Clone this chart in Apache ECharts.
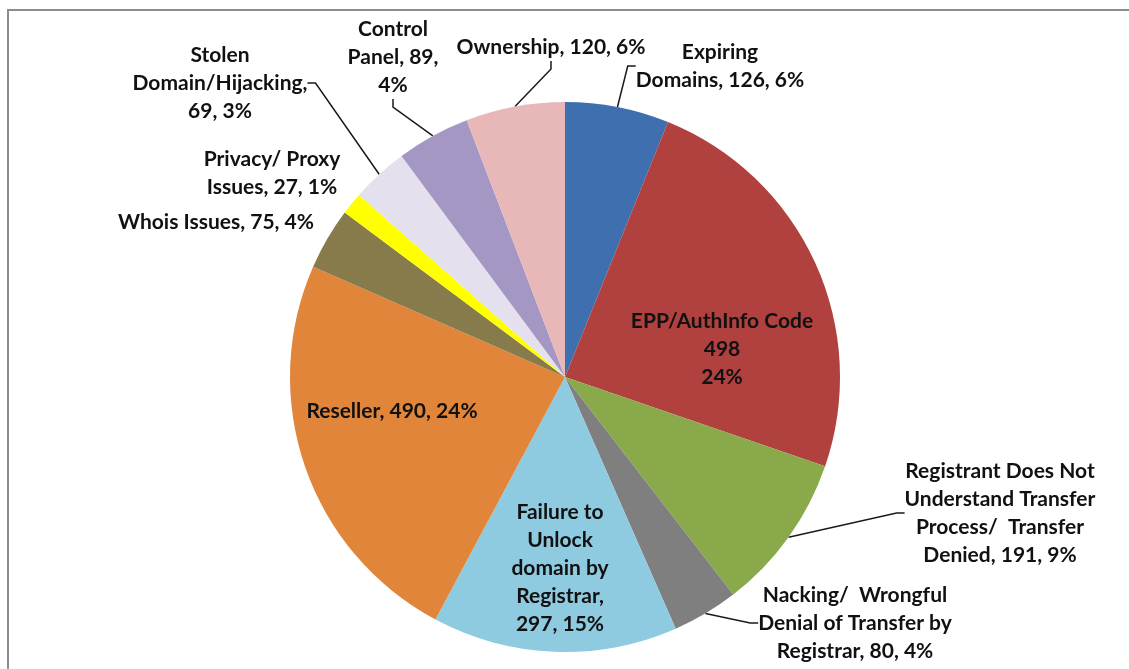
<!DOCTYPE html>
<html>
<head>
<meta charset="utf-8">
<script src="https://cdn.jsdelivr.net/npm/echarts@6/dist/echarts.min.js"></script>
<style>
  html, body { margin: 0; padding: 0; background: #fff; }
  #container { width: 1129px; height: 669px; }
</style>
</head>
<body>
<div id="container"></div>
<script>
// clockwise from 12 o'clock
var categories = [
    'Expiring Domains',
    'EPP/AuthInfo Code',
    'Registrant Does Not Understand Transfer Process/ Transfer Denied',
    'Nacking/ Wrongful Denial of Transfer by Registrar',
    'Failure to Unlock domain by Registrar',
    'Reseller',
    'Whois Issues',
    'Privacy/ Proxy Issues',
    'Stolen Domain/Hijacking',
    'Control Panel',
    'Ownership'
];
var values = [126, 498, 191, 80, 297, 490, 75, 27, 69, 89, 120];
var percents = ['6%', '24%', '9%', '4%', '15%', '24%', '4%', '1%', '3%', '4%', '6%'];

// label wording, as broken into lines on the chart
var labelTpl = [
    'Expiring\nDomains, {v}, {p}',
    'EPP/AuthInfo Code\n{v}\n{p}',
    'Registrant Does Not\nUnderstand Transfer\nProcess/  Transfer\nDenied, {v}, {p}',
    'Nacking/  Wrongful\nDenial of Transfer by\nRegistrar, {v}, {p}',
    'Failure to\nUnlock\ndomain by\nRegistrar,\n{v}, {p}',
    'Reseller, {v}, {p}',
    'Whois Issues, {v}, {p}',
    'Privacy/ Proxy\nIssues, {v}, {p}',
    'Stolen\nDomain/Hijacking,\n{v}, {p}',
    'Control\nPanel, {v},\n{p}',
    'Ownership, {v}, {p}'
];

var colors = ['#3f6fae', '#b0413e', '#8aa94b', '#7f7f7f', '#8fcbe0', '#e0853a',
              '#877b4c', '#ffff00', '#e4e0ee', '#a597c4', '#e7b8b7'];

// manual label placement (centre of each text block), like the Excel layout
var labelPos = [
    [720, 66], [722, 349], [1000, 513], [855, 623], [560, 568], [392, 411],
    [216, 222], [272, 173], [220, 83], [393, 57], [551, 47]
];
var hasLine = [true, false, true, true, false, false, false, false, true, true, true];

var dom = document.getElementById('container');
var myChart = echarts.init(dom);

var pieData = [];
for (var i = 0; i < values.length; i++) {
    pieData.push({
        name: categories[i],
        value: values[i],
        itemStyle: { color: colors[i] },
        labelLine: { show: hasLine[i] }
    });
}

var option = {
    animation: false,
    graphic: [{
        type: 'rect',
        shape: { x: 8, y: 10, width: 1140, height: 680 },
        style: { fill: 'none', stroke: '#8c8c8c', lineWidth: 2 },
        silent: true
    }],
    series: [{
        type: 'pie',
        center: [565, 377],
        radius: 275,
        startAngle: 90,
        clockwise: true,
        avoidLabelOverlap: false,
        itemStyle: { borderWidth: 0 },
        label: {
            show: true,
            position: 'outside',
            fontFamily: 'Lato',
            fontWeight: 'bold',
            fontSize: 21,
            lineHeight: 28,
            color: '#111',
            align: 'center',
            formatter: function (p) {
                return labelTpl[p.dataIndex]
                    .replace('{v}', values[p.dataIndex])
                    .replace('{p}', percents[p.dataIndex]);
            }
        },
        labelLine: {
            length: 10,
            length2: 8,
            lineStyle: { color: '#1a1a1a', width: 1.5 }
        },
        labelLayout: function (params) {
            var pos = labelPos[params.dataIndex];
            return { x: pos[0], y: pos[1], align: 'center', verticalAlign: 'middle' };
        },
        data: pieData
    }]
};

myChart.setOption(option, true);
</script>
</body>
</html>
